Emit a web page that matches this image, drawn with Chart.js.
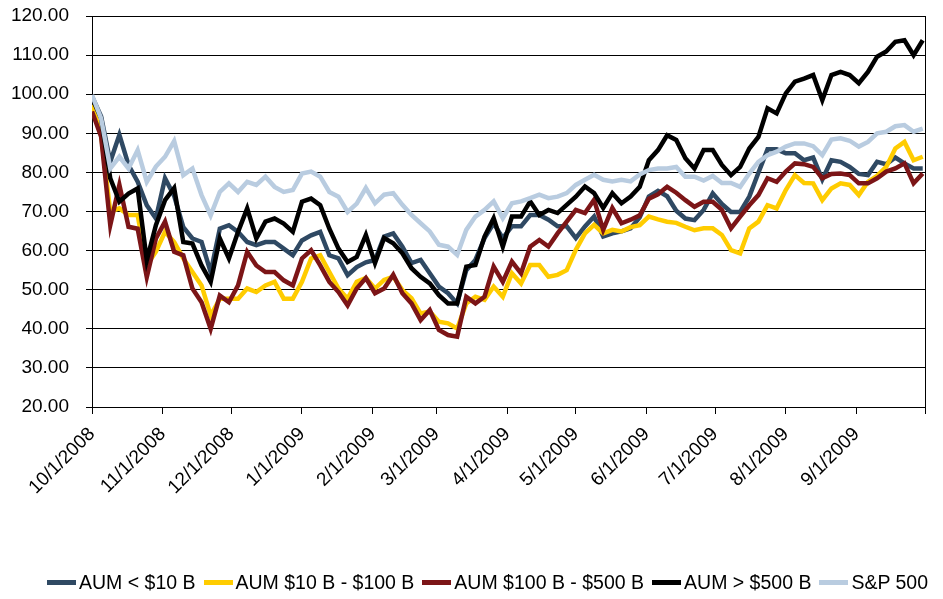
<!DOCTYPE html>
<html>
<head>
<meta charset="utf-8">
<script src="https://cdn.jsdelivr.net/npm/chart.js@4.4.1/dist/chart.umd.min.js"></script>
<style>
    body { margin: 0; background: #fff; }
    .chart-box { width: 943px; height: 599px; position: relative; }
    .legend { position: absolute; left: 47px; top: 571px; display: flex; align-items: center;
        font-family: "Liberation Sans", Arial, sans-serif; font-size: 19.5px; color: #000; white-space: nowrap; }
    .legend-item { display: flex; align-items: center; margin-right: 8px; }
    .legend-swatch { width: 29px; height: 5px; margin-right: 3px; }
</style>
</head>
<body>
<div class="chart-box">
    <canvas id="aumChart"></canvas>
    <div class="legend" id="legend"></div>
</div>
<script>
// days since 10/1/2008
const days = [0, 4, 8, 12, 16, 20, 24, 28, 32, 36, 40, 44, 48, 52, 56, 60, 64, 68, 72, 76,
    80, 84, 88, 92, 96, 100, 104, 108, 112, 116, 120, 124, 128, 132, 136, 140, 144, 148, 152, 156,
    160, 164, 168, 172, 176, 180, 184, 188, 192, 196, 200, 204, 208, 212, 216, 220, 224, 228, 232, 236,
    240, 244, 248, 252, 256, 260, 264, 268, 272, 276, 280, 284, 288, 292, 296, 300, 304, 308, 312, 316,
    320, 324, 328, 332, 336, 340, 344, 348, 352, 356, 360, 364];

const tickDays = [0, 31, 61, 92, 123, 151, 182, 212, 243, 273, 304, 335, 365];
const tickLabels = ['10/1/2008', '11/1/2008', '12/1/2008', '1/1/2009', '2/1/2009', '3/1/2009',
    '4/1/2009', '5/1/2009', '6/1/2009', '7/1/2009', '8/1/2009', '9/1/2009', ''];

const seriesNames = ['AUM < $10 B', 'AUM $10 B - $100 B', 'AUM $100 B - $500 B', 'AUM > $500 B', 'S&P 500'];

const aumSmall = [99.4, 94.3, 82.7, 89.6, 81.9, 77.6, 71.6, 68.2, 78.5, 74.0, 66.0, 63.1, 62.2, 54.5, 65.6, 66.5, 64.8, 62.2, 61.4, 62.2,
    62.2, 60.5, 58.8, 62.6, 63.9, 64.8, 58.8, 58.0, 53.7, 55.8, 57.0, 57.6, 63.6, 64.4, 61.0, 56.8, 57.6, 54.2, 50.8, 49.1,
    46.5, 55.0, 57.6, 63.2, 67.0, 63.2, 66.2, 66.2, 69.1, 69.1, 67.9, 66.2, 66.2, 63.2, 66.2, 68.7, 63.6, 64.4, 64.9, 65.7,
    68.5, 73.8, 75.3, 73.9, 70.2, 68.2, 67.8, 70.4, 74.6, 71.9, 69.9, 69.9, 73.8, 79.9, 85.9, 85.9, 84.9, 84.9, 83.1, 83.8,
    78.2, 83.1, 82.7, 81.4, 79.6, 79.3, 82.7, 82.1, 83.8, 82.3, 81.0, 81.0];

const aumMid = [97.3, 89.6, 70.0, 70.8, 69.1, 69.1, 56.2, 59.7, 64.8, 62.2, 58.0, 54.5, 51.1, 43.4, 47.7, 47.7, 47.7, 50.3, 49.4, 51.1,
    52.0, 47.7, 47.7, 52.0, 58.0, 58.8, 54.5, 50.3, 47.7, 52.0, 53.0, 50.3, 52.5, 53.3, 49.9, 47.8, 43.9, 44.4, 41.8, 41.4,
    40.1, 46.5, 48.2, 47.4, 50.8, 48.2, 54.2, 51.6, 56.3, 56.3, 53.3, 53.8, 55.0, 60.2, 64.4, 66.6, 64.4, 65.3, 64.9, 66.0,
    66.5, 68.7, 68.0, 67.4, 67.1, 66.1, 65.2, 65.7, 65.7, 64.0, 60.1, 59.3, 65.7, 67.4, 71.6, 70.8, 75.5, 79.3, 77.3, 77.2,
    72.9, 75.9, 77.2, 76.8, 74.2, 77.6, 79.1, 81.4, 86.1, 87.8, 83.1, 84.0];

const aumLargeMid = [95.6, 89.1, 66.5, 76.8, 66.1, 65.6, 53.2, 63.1, 67.4, 59.7, 58.8, 50.3, 46.8, 40.0, 48.5, 46.8, 51.1, 59.7, 56.2, 54.5,
    54.5, 52.4, 51.1, 58.0, 60.1, 56.2, 52.0, 49.4, 46.0, 50.3, 53.0, 49.1, 50.3, 53.8, 49.1, 46.5, 42.2, 44.8, 39.7, 38.4,
    38.0, 48.2, 46.5, 48.2, 55.9, 52.0, 57.2, 54.2, 61.0, 62.7, 61.0, 64.4, 67.4, 70.4, 69.6, 73.0, 65.3, 70.9, 67.0, 67.9,
    69.0, 73.3, 74.4, 76.3, 74.8, 72.9, 71.2, 72.5, 72.5, 70.4, 65.7, 68.7, 71.6, 74.2, 78.5, 77.6, 80.2, 82.3, 82.1, 81.4,
    78.5, 79.6, 79.7, 79.3, 77.2, 77.2, 78.5, 80.2, 81.0, 82.3, 77.2, 79.7];

const aumLarge = [99.0, 93.8, 78.5, 72.5, 74.6, 75.9, 57.5, 66.5, 72.9, 76.0, 62.2, 61.8, 56.2, 52.0, 63.1, 58.0, 64.8, 70.8, 63.1, 67.4,
    68.2, 66.9, 64.8, 72.5, 73.3, 71.6, 65.6, 60.5, 57.1, 58.4, 64.0, 56.8, 63.2, 61.9, 59.3, 55.5, 53.3, 51.6, 48.6, 46.5,
    46.5, 55.9, 56.3, 63.6, 68.3, 61.0, 68.7, 68.7, 72.6, 69.1, 70.4, 69.6, 71.7, 73.8, 76.4, 74.7, 70.9, 74.7, 72.1, 73.8,
    76.3, 83.1, 85.7, 89.5, 88.3, 83.6, 81.0, 85.7, 85.7, 81.9, 79.3, 81.4, 86.1, 89.1, 96.4, 95.1, 100.2, 103.2, 104.0, 104.9,
    98.5, 104.9, 105.7, 104.9, 102.8, 105.7, 109.6, 110.9, 113.4, 113.8, 110.0, 113.8];

const sp500 = [99.8, 93.8, 81.0, 84.0, 81.0, 85.7, 77.6, 81.5, 84.0, 88.0, 79.3, 81.0, 74.2, 69.0, 75.0, 77.2, 75.0, 77.6, 76.8, 78.9,
    76.3, 75.0, 75.5, 79.7, 80.2, 78.9, 75.0, 73.8, 69.9, 72.0, 76.0, 72.1, 74.3, 74.7, 71.7, 69.1, 67.0, 64.9, 61.5, 61.0,
    58.9, 65.3, 68.7, 70.4, 72.6, 68.3, 72.1, 72.6, 73.4, 74.3, 73.4, 73.8, 74.7, 76.8, 78.1, 79.4, 78.1, 77.7, 78.1, 77.7,
    79.5, 80.6, 81.0, 81.0, 81.4, 78.9, 78.9, 77.9, 79.1, 77.3, 77.3, 76.3, 79.7, 82.7, 84.4, 85.3, 86.6, 87.4, 87.4, 86.7,
    84.4, 88.4, 88.7, 88.1, 86.6, 87.8, 90.0, 90.4, 91.8, 92.1, 90.4, 91.2];

const seriesValues = [aumSmall, aumMid, aumLargeMid, aumLarge, sp500];
const seriesColors = ['#2F4963', '#FFCC00', '#7C1517', '#000000', '#B9CCE0'];

const fontFamily = '"Liberation Sans", Arial, sans-serif';

// plot frame on the right side
const framePlugin = {
    id: 'frame',
    afterDraw(chart) {
        const { ctx, chartArea } = chart;
        ctx.save();
        ctx.strokeStyle = '#000';
        ctx.lineWidth = 1;
        ctx.beginPath();
        ctx.moveTo(chartArea.right + 0.5, chartArea.top);
        ctx.lineTo(chartArea.right + 0.5, chartArea.bottom + 7);
        ctx.stroke();
        ctx.restore();
    }
};

// legend under the chart, swatch right next to text
const legendBox = document.getElementById("legend");
seriesNames.forEach((name, i) => {
    const item = document.createElement("span");
    item.className = "legend-item";
    item.innerHTML = '<span class="legend-swatch" style="background:' + seriesColors[i] + '"></span>';
    item.appendChild(document.createTextNode(name));
    legendBox.appendChild(item);
});

window.addEventListener("DOMContentLoaded", () => {
    const ctx = document.getElementById("aumChart").getContext("2d");

    const datasets = seriesNames.map((name, i) => ({
        label: name,
        data: days.map((d, j) => ({ x: d, y: seriesValues[i][j] })),
        borderColor: seriesColors[i],
        backgroundColor: seriesColors[i],
        borderWidth: 4.5,
        pointRadius: 0,
        tension: 0,
        order: seriesNames.length - i   // S&P drawn on top
    }));

    new Chart(ctx, {
        type: 'line',
        data: { datasets: datasets },
        options: {
            responsive: true,
            maintainAspectRatio: false,
            animation: false,
            layout: { padding: { top: 16, right: 18, left: 0, bottom: 0 } },
            plugins: {
                legend: { display: false },
                tooltip: { enabled: false }
            },
            scales: {
                x: {
                    type: 'linear',
                    min: 0,
                    max: 365,
                    afterBuildTicks: scale => {
                        scale.ticks = tickDays.map(v => ({ value: v }));
                    },
                    afterFit: scale => {
                        scale.height = 599 - 407;
                        scale.paddingLeft = 0;
                        scale.paddingRight = 0;
                    },
                    ticks: {
                        autoSkip: false,
                        maxRotation: 45,
                        minRotation: 45,
                        padding: 9,
                        color: '#000',
                        font: { family: fontFamily, size: 19 },
                        callback: (value, index) => tickLabels[index]
                    },
                    grid: { drawOnChartArea: false, drawTicks: true, tickLength: 7, color: '#000' },
                    border: { display: true, color: '#000', width: 1 }
                },
                y: {
                    min: 20,
                    max: 120,
                    afterFit: scale => {
                        scale.width = 92;
                        scale.paddingTop = 0;
                        scale.paddingBottom = 0;
                    },
                    ticks: {
                        stepSize: 10,
                        padding: 17,
                        color: '#000',
                        font: { family: fontFamily, size: 19 },
                        callback: value => value.toFixed(2)
                    },
                    grid: { color: '#000', lineWidth: 1, tickLength: 6 },
                    border: { display: true, color: '#000', width: 1 }
                }
            }
        },
        plugins: [framePlugin]
    });
});
</script>
</body>
</html>
